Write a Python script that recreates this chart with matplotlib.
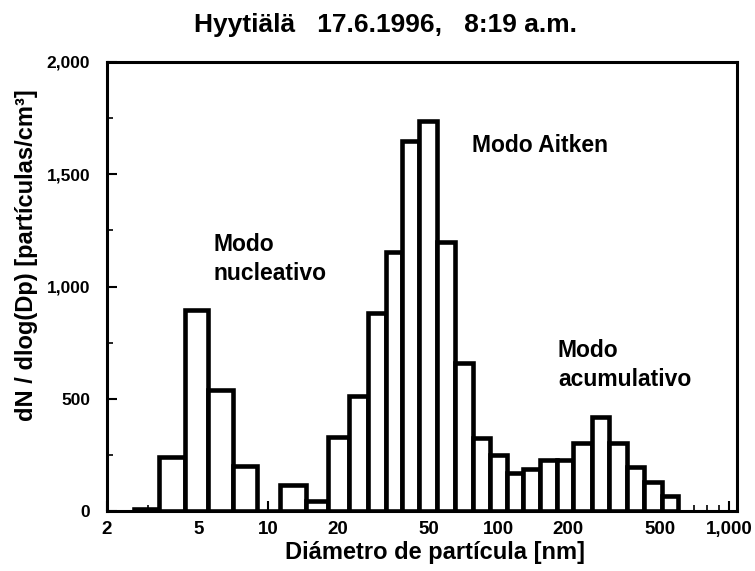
import numpy as np
import matplotlib
matplotlib.use("Agg")
import matplotlib.pyplot as plt
from matplotlib.ticker import FixedLocator, FuncFormatter, MultipleLocator, LogLocator

# bin edges (particle diameter, nm)
bin_edges = [2.62, 3.36, 4.36, 5.48, 7.04, 8.94, 11.25, 14.59, 18.17, 22.41,
             27.09, 32.42, 38.04, 45.08, 53.96, 64.57, 77.32, 91.6, 108.6,
             127.4, 150.9, 178.8, 209.8, 253.6, 300.6, 359.8, 426.4, 510.3, 598.8]
# dN/dlog(Dp) per bin
counts = [10, 239, 895, 538, 200, 0, 118, 46, 329, 511, 880, 1155, 1649, 1735,
          1200, 658, 324, 249, 169, 187, 227, 227, 302, 418, 302, 196, 129, 67]

xticks = [2, 5, 10, 20, 50, 100, 200, 500, 1000]
yticks = [0, 500, 1000, 1500, 2000]

plt.rcParams['font.family'] = ['Liberation Sans', 'DejaVu Sans']
plt.rcParams['font.weight'] = 'bold'

fig = plt.figure(figsize=(7.55, 5.71), dpi=100)
ax = fig.add_axes([107/755, 1 - 511/571, (737-107)/755, (511-62)/571])

edges = np.array(bin_edges)
ax.bar(edges[:-1], counts, width=np.diff(edges), align='edge',
       facecolor='white', edgecolor='black', linewidth=3.3, zorder=3)

ax.set_xscale('log')
ax.set_xlim(2, 1080)
ax.set_ylim(0, 2000)

ax.xaxis.set_major_locator(FixedLocator(xticks))
ax.xaxis.set_major_formatter(FuncFormatter(lambda v, p: '{:,}'.format(int(v))))
ax.xaxis.set_minor_locator(LogLocator(base=10, subs=np.arange(2, 10) * 1.0))
ax.xaxis.set_minor_formatter(FuncFormatter(lambda v, p: ''))
ax.yaxis.set_major_locator(FixedLocator(yticks))
ax.yaxis.set_major_formatter(FuncFormatter(lambda v, p: '{:,}'.format(int(v))))
ax.yaxis.set_minor_locator(MultipleLocator(250))

ax.tick_params(axis='both', which='major', direction='in', length=7, width=1.5,
               top=False, right=False)
ax.tick_params(axis='both', which='minor', direction='in', length=4, width=1.2,
               top=False, right=False)
ax.tick_params(axis='y', pad=12, labelsize=12.5)
ax.tick_params(axis='x', pad=7, labelsize=13.5)

for s in ax.spines.values():
    s.set_linewidth(2.2)

ax.set_xlabel('Diámetro de partícula [nm]', fontsize=17, fontweight='bold')
ax.xaxis.set_label_coords((435 - 107) / 630, -(541 - 511) / 449)
ax.set_ylabel('dN / dlog(Dp) [partículas/cm³]', fontsize=17, fontweight='bold')
ax.yaxis.set_label_coords(-(107 - 38) / 630, (511 - 255) / 449)

fig.text(385/755, 1 - 25/571, 'Hyytiälä   17.6.1996,   8:19 a.m.',
         ha='center', va='center', fontsize=19, fontweight='bold')

ax.text(5.77, 1238, 'Modo\nnucleativo', fontsize=16.5, fontweight='bold',
        ha='left', va='top', linespacing=1.35)
ax.text(76.5, 1626, 'Modo Aitken', fontsize=16.5, fontweight='bold', ha='left', va='center')
ax.text(180.6, 650, 'Modo\nacumulativo', fontsize=16.5, fontweight='bold',
        ha='left', va='center', linespacing=1.35)

fig.savefig('out.png', dpi=100)
